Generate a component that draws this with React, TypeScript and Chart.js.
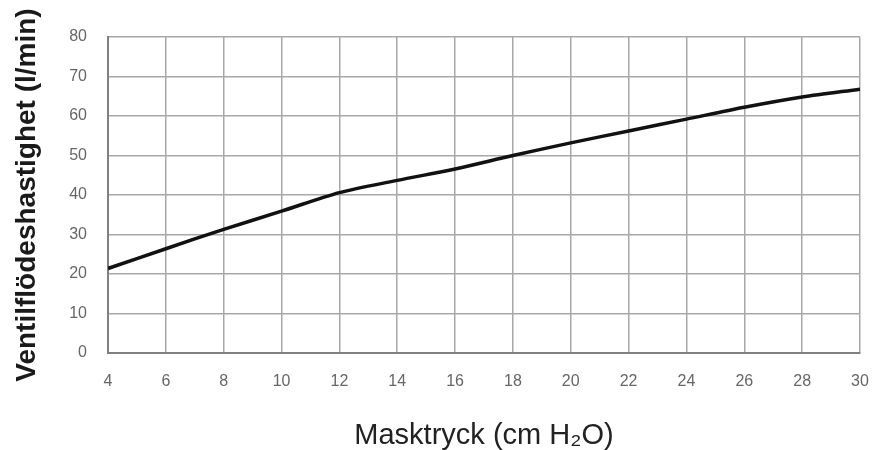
import { useEffect, useRef } from "react";
import { Chart, registerables } from "chart.js";

Chart.register(...registerables);

// Masktryck (cm H2O) vs ventilflödeshastighet (l/min)
const pressure = [4, 6, 8, 10, 12, 14, 16, 18, 20, 22, 24, 26, 28, 30];
const flow = [21.4, 26.4, 31.3, 35.9, 40.6, 43.7, 46.6, 50.0, 53.2, 56.2, 59.2, 62.2, 64.8, 66.8];

const FONT = "'Liberation Sans', Arial, sans-serif";

export default function App() {
  const canvasRef = useRef<HTMLCanvasElement>(null);
  const chartRef = useRef<Chart | null>(null);

  useEffect(() => {
    if (!canvasRef.current) return;
    if (chartRef.current) chartRef.current.destroy();
    const ctx = canvasRef.current.getContext("2d");
    if (!ctx) return;

    chartRef.current = new Chart(ctx, {
      type: "line",
      data: {
        datasets: [
          {
            label: "Ventilflöde",
            data: pressure.map((p, i) => ({ x: p, y: flow[i] })),
            borderColor: "#111111",
            borderWidth: 3.5,
            pointRadius: 0,
            tension: 0.3,
            fill: false,
          },
        ],
      },
      options: {
        responsive: true,
        maintainAspectRatio: false,
        animation: false,
        layout: { padding: { left: 13, right: 19, top: 37, bottom: 0 } },
        plugins: { legend: { display: false }, tooltip: { enabled: false } },
        scales: {
          x: {
            type: "linear",
            min: 4,
            max: 30,
            afterFit: (scale: any) => {
              scale.height = 97;
              scale.paddingLeft = 0;
              scale.paddingRight = 0;
            },
            grid: { color: "#a8a8a8", lineWidth: 1.5, drawTicks: false },
            border: { color: "#808080", width: 2 },
            ticks: { stepSize: 2, padding: 19, color: "#666", font: { family: FONT, size: 16 } },
            title: {
              display: true,
              text: "Masktryck (cm H₂O)",
              color: "#222",
              padding: { top: 0, bottom: 0 },
              font: { family: FONT, size: 29, lineHeight: 1 },
            },
          },
          y: {
            min: 0,
            max: 80,
            afterFit: (scale: any) => { scale.width = 95; },
            grid: { color: "#a8a8a8", lineWidth: 1.5, drawTicks: false },
            border: { color: "#808080", width: 2 },
            ticks: { stepSize: 10, padding: 21, color: "#666", font: { family: FONT, size: 16 } },
            title: {
              display: true,
              text: "Ventilflödeshastighet (l/min)",
              color: "#1a1a1a",
              padding: { top: 0, bottom: 0 },
              font: { family: FONT, size: 28, weight: "bold", lineHeight: 1 },
            },
          },
        },
      },
    });

    return () => { if (chartRef.current) chartRef.current.destroy(); };
  }, []);

  return (
    <div style={{ position: "fixed", left: 0, top: 0, width: 879, height: 450, background: "#fff" }}>
      <canvas ref={canvasRef} />
    </div>
  );
}
